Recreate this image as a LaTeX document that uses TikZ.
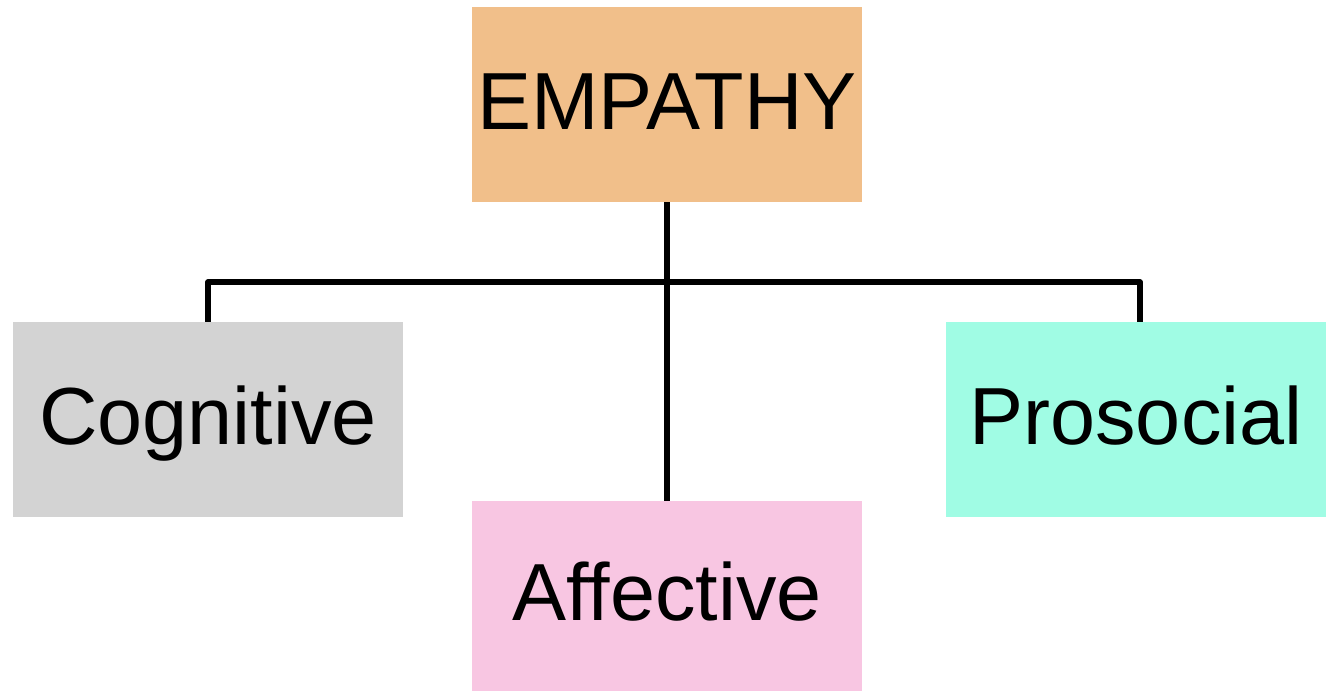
\documentclass[tikz,border=0pt]{standalone}
\usepackage{fontspec}
\setmainfont{Liberation Sans}
\definecolor{cEmp}{RGB}{241,191,138}
\definecolor{cCog}{RGB}{211,211,211}
\definecolor{cAff}{RGB}{248,198,226}
\definecolor{cPro}{RGB}{160,252,228}
\tikzset{
  box/.style={rectangle, draw=none, inner sep=0pt, minimum width=390pt, minimum height=195pt,
    font=\fontsize{81}{97}\selectfont, text height=58pt, text depth=9pt},
  link/.style={draw=black, line width=5.5pt, line join=round}
}
\begin{document}
\begin{tikzpicture}[x=1pt,y=-1pt]
\useasboundingbox (0,0) rectangle (1326,691);
\node[box, fill=cEmp] (emp) at (667,104.5) {EMPATHY};
\node[box, fill=cCog] (cog) at (208,419.5) {Cognitive};
\node[box, fill=cPro, minimum width=380pt] (pro) at (1136,419.5) {Prosocial};
\node[box, fill=cAff, minimum height=190pt] (aff) at (667,596) {Affective};
\coordinate (j) at (667,282);
\coordinate (pt) at (1140,322);
\draw[link] (emp.south) -- (aff.north);
\draw[link] (cog.north) |- (j) -| (pt);
\end{tikzpicture}
\end{document}
